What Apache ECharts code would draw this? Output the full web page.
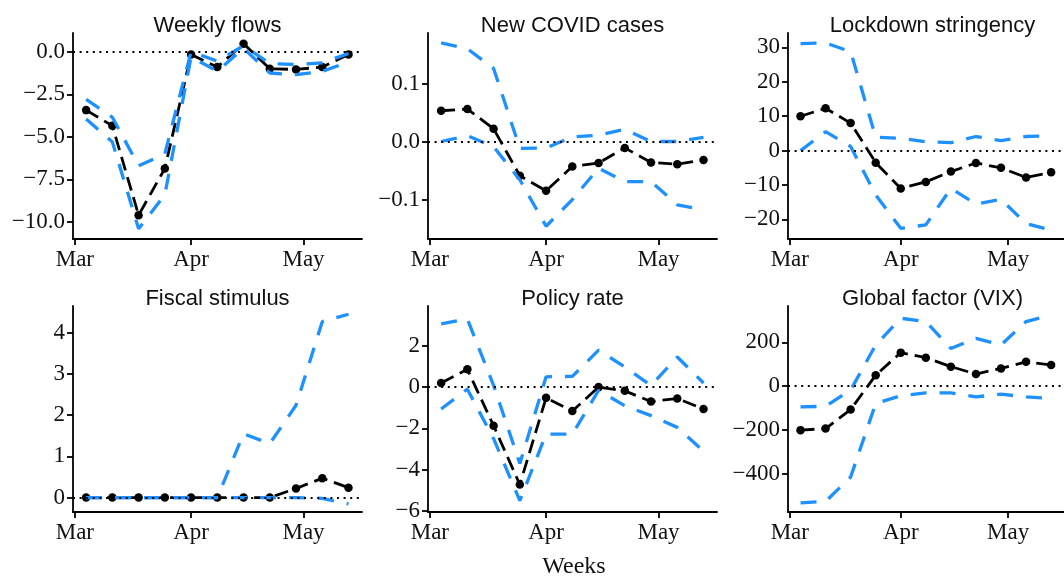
<!DOCTYPE html>
<html>
<head>
<meta charset="utf-8">
<title>Weekly flows: drivers</title>
<script src="https://cdn.jsdelivr.net/npm/echarts@6/dist/echarts.min.js"></script>
<style>
  html, body { margin: 0; padding: 0; background: #fff; }
  #chart { width: 1064px; height: 577px; }
</style>
</head>
<body>
<div id="chart"></div>
<script>
// weekly observation dates
const weeks = ['2020-03-04', '2020-03-11', '2020-03-18', '2020-03-25', '2020-04-01',
  '2020-04-08', '2020-04-15', '2020-04-22', '2020-04-29', '2020-05-06', '2020-05-13']
const monthTicks = ['2020-03-01', '2020-04-01', '2020-05-01']
const monthLabels = ['Mar', 'Apr', 'May']

// point estimate (est), upper band (hi), lower band (lo)
const flowsEst = [-3.43, -4.35, -9.6, -6.86, -0.16, -0.9, 0.47, -1.0, -1.04, -0.9, -0.16]
const flowsHi = [-2.8, -3.85, -6.7, -6.0, 0.0, -0.55, 0.35, -0.7, -0.75, -0.65, -0.1]
const flowsLo = [-3.95, -5.3, -10.4, -8.4, -0.3, -1.15, 0.2, -1.25, -1.35, -1.15, -0.6]

const covidEst = [0.053, 0.056, 0.022, -0.059, -0.085, -0.043, -0.037, -0.011, -0.036, -0.039, -0.032]
const covidHi = [0.17, 0.16, 0.126, -0.012, -0.011, 0.008, 0.011, 0.021, 0.0, 0.0, 0.007]
const covidLo = [0.0, 0.01, -0.009, -0.066, -0.146, -0.1, -0.046, -0.069, -0.069, -0.109, -0.118]

const strinEst = [10.0, 12.3, 8.0, -3.5, -11.0, -9.1, -6.1, -3.6, -5.0, -7.8, -6.3]
const strinHi = [31.1, 31.3, 28.8, 3.9, 3.6, 2.6, 2.3, 4.1, 2.9, 4.1, 4.3]
const strinLo = [0.0, 5.5, 1.2, -12.9, -22.6, -21.6, -11.0, -15.5, -14.2, -21.2, -23.1]

const fiscalEst = [0, 0, 0, 0, 0, 0, 0, 0, 0.22, 0.47, 0.24]
const fiscalHi = [0, 0, 0, 0, 0, 0, 1.55, 1.31, 2.24, 4.27, 4.45]
const fiscalLo = [0, 0, 0, 0, 0, 0, 0, 0, 0, -0.02, -0.15]

const rateEst = [0.2, 0.86, -1.87, -4.72, -0.52, -1.16, 0.0, -0.18, -0.7, -0.55, -1.06]
const rateHi = [3.06, 3.3, 0.08, -3.7, 0.5, 0.52, 1.79, 0.98, 0.08, 1.46, 0.2]
const rateLo = [-1.06, -0.1, -2.5, -5.5, -2.28, -2.28, -0.16, -0.9, -1.38, -1.95, -3.1]

const vixEst = [-201, -194, -107, 50, 153, 130, 89, 55, 81, 111, 96]
const vixHi = [-95, -92, -18, 188, 310, 295, 172, 218, 188, 295, 325]
const vixLo = [-533, -527, -415, -79, -44, -31, -31, -49, -37, -49, -56]

const panels = [
  { title: 'Weekly flows', est: flowsEst, hi: flowsHi, lo: flowsLo, ticks: [0, -2.5, -5, -7.5, -10], min: -11.0, max: 1.1, dec: 1 },
  { title: 'New COVID cases', est: covidEst, hi: covidHi, lo: covidLo, ticks: [0.1, 0, -0.1], min: -0.168, max: 0.187, dec: 1 },
  { title: 'Lockdown stringency', est: strinEst, hi: strinHi, lo: strinLo, ticks: [30, 20, 10, 0, -10, -20], min: -25.7, max: 34.2, dec: 0 },
  { title: 'Fiscal stimulus', est: fiscalEst, hi: fiscalHi, lo: fiscalLo, ticks: [0, 1, 2, 3, 4], min: -0.35, max: 4.65, dec: 0 },
  { title: 'Policy rate', est: rateEst, hi: rateHi, lo: rateLo, ticks: [2, 0, -2, -4, -6], min: -6.05, max: 3.93, dec: 0 },
  { title: 'Global factor (VIX)', est: vixEst, hi: vixHi, lo: vixLo, ticks: [200, 0, -200, -400], min: -575, max: 366, dec: 0 }
]

const dayOf = s => (Date.parse(s) - Date.parse('2020-03-01')) / 864e5
const xDays = weeks.map(dayOf)
const monthDays = monthTicks.map(dayOf)

const colLeft = [73, 428, 788]
const rowTop = [33, 306]
const plotW = 289
const plotH = 206
const serif = '"Liberation Serif", "Times New Roman", serif'
const sans = '"Liberation Sans", Arial, sans-serif'
const blue = '#1E90FF'

const fmt = (v, dec) => v.toFixed(dec).replace('-', '\u2212')

let grid = []
let xAxis = []
let yAxis = []
let series = []
let title = []

panels.forEach((p, i) => {
  const left = colLeft[i % 3]
  const top = rowTop[Math.floor(i / 3)]
  grid.push({ left: left, top: top, width: plotW, height: plotH })
  title.push({
    text: p.title,
    left: left + plotW / 2,
    top: top - 18,
    textAlign: 'center',
    padding: 0,
    textStyle: { fontFamily: sans, fontSize: 22, fontWeight: 'normal', color: '#111' }
  })
  const axisLine = { show: true, onZero: false, lineStyle: { color: '#000', width: 1.8 } }
  xAxis.push({
    type: 'value', gridIndex: i, min: -0.5, max: 76.6,
    axisLine: axisLine,
    axisTick: { show: true, length: 6, lineStyle: { color: '#000', width: 1.8 }, customValues: monthDays },
    axisLabel: {
      show: true, margin: 9, customValues: monthDays,
      fontFamily: serif, fontSize: 23, color: '#111',
      formatter: v => monthLabels[monthDays.indexOf(v)]
    },
    splitLine: { show: false }
  })
  yAxis.push({
    type: 'value', gridIndex: i, min: p.min, max: p.max,
    axisLine: axisLine,
    axisTick: { show: true, length: 6, lineStyle: { color: '#000', width: 1.8 }, customValues: p.ticks },
    axisLabel: {
      show: true, margin: 8, customValues: p.ticks,
      fontFamily: serif, fontSize: 23, color: '#111',
      formatter: v => fmt(v, p.dec)
    },
    splitLine: { show: false }
  })
  const pts = arr => arr.map((v, k) => [xDays[k], v])
  series.push({
    type: 'line', xAxisIndex: i, yAxisIndex: i, z: 2,
    data: pts(p.est),
    symbol: 'circle', symbolSize: 8.5,
    itemStyle: { color: '#000' },
    lineStyle: { color: '#000', width: 2.8, type: [14, 7] }
  })
  ;[p.hi, p.lo].forEach(band => {
    series.push({
      type: 'line', xAxisIndex: i, yAxisIndex: i, z: 3,
      data: pts(band),
      symbol: 'none',
      lineStyle: { color: blue, width: 3.3, type: [16, 13] }
    })
  })
  // dotted zero reference line on top
  series.push({
    type: 'line', xAxisIndex: i, yAxisIndex: i, z: 5,
    data: [],
    markLine: {
      silent: true, symbol: ['none', 'none'],
      label: { show: false },
      lineStyle: { color: '#000', width: 1.8, type: [2, 4.6] },
      data: [{ yAxis: 0 }]
    }
  })
})

title.push({
  text: 'Weeks',
  left: 574,
  top: 555,
  textAlign: 'center',
  padding: 0,
  textStyle: { fontFamily: serif, fontSize: 24, fontWeight: 'normal', color: '#111' }
})

const chart = echarts.init(document.getElementById('chart'))
chart.setOption({
  animation: false,
  backgroundColor: '#fff',
  title: title,
  grid: grid,
  xAxis: xAxis,
  yAxis: yAxis,
  series: series
})
</script>
</body>
</html>
